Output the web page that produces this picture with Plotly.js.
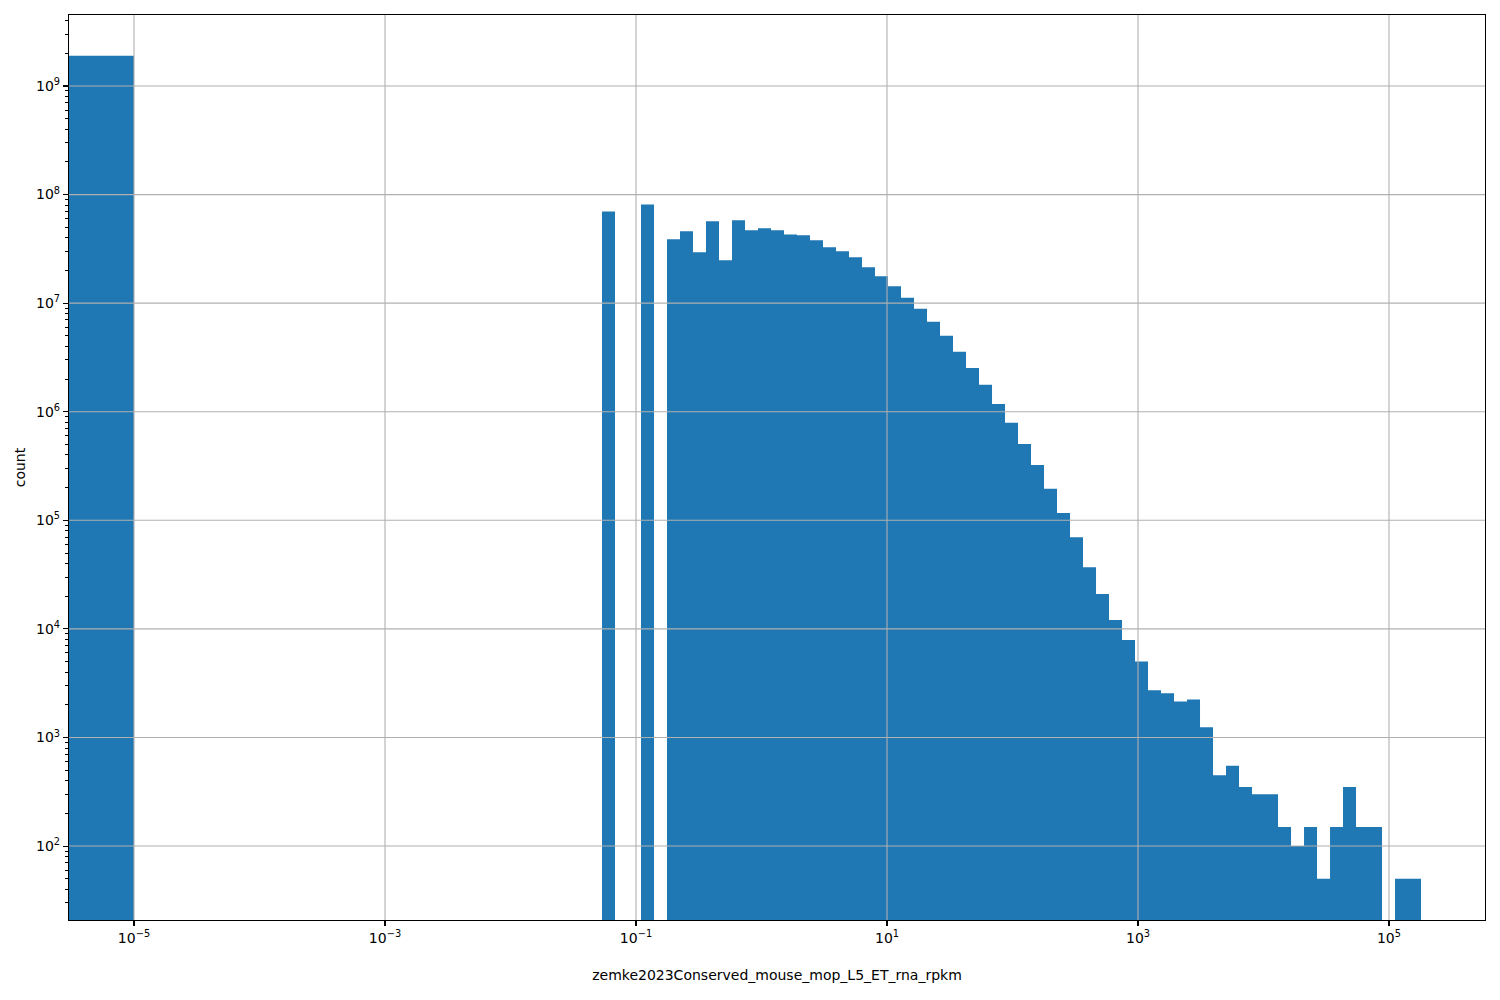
<!DOCTYPE html>
<html>
<head>
<meta charset="utf-8">
<script src="https://cdn.plot.ly/plotly-3.0.1.min.js"></script>
<style>html,body{margin:0;padding:0;background:#fff}</style>
</head>
<body>
<div id="chart" style="width:1500px;height:1000px"></div>
<script>
// histogram of rpkm values, log-spaced bins + one bin for the zeros
const zeroCount = 1.9e9;      // values == 0, drawn from 0 up to 1e-5
const zeroEdge = 1e-5;
const binLoExp = -1.2709;     // log10 of first bin's left edge
const binStepExp = 0.10359;   // bin width in decades
const counts = [
    7.0e7, 0, 0, 8.1e7, 0, 3.87e7, 4.6e7, 2.94e7, 5.68e7, 2.48e7,
    5.8e7, 4.69e7, 4.89e7, 4.69e7, 4.3e7, 4.22e7, 3.79e7, 3.27e7, 3.0e7, 2.65e7,
    2.14e7, 1.77e7, 1.43e7, 1.12e7, 8.87e6, 6.73e6, 5.0e6, 3.56e6, 2.53e6, 1.77e6,
    1.18e6, 7.9e5, 5.05e5, 3.24e5, 1.95e5, 1.17e5, 7.0e4, 3.7e4, 2.1e4, 1.21e4,
    7.9e3, 5.0e3, 2.72e3, 2.55e3, 2.15e3, 2.24e3, 1.24e3, 450, 550, 350,
    300, 300, 150, 100, 150, 50, 150, 350, 150, 150,
    0, 50, 50
];
const xTickExp = [-5, -3, -1, 1, 3, 5];
const yTickExp = [2, 3, 4, 5, 6, 7, 8, 9];
const xLabel = "zemke2023Conserved_mouse_mop_L5_ET_rna_rpkm";
const yLabel = "count";

const BLUE = "#1f77b4", GRID = "#b0b0b0";
const FONT = { family: "DejaVu Sans, sans-serif", size: 14, color: "#000" };

// step outline of the bars, closed along a baseline below the axis
const base = 1;
const xs = [1e-8, 1e-8, zeroEdge, zeroEdge];
const ys = [base, zeroCount, zeroCount, base];
counts.forEach((c, i) => {
    const l = Math.pow(10, binLoExp + i * binStepExp), r = Math.pow(10, binLoExp + (i + 1) * binStepExp);
    const v = c > 0 ? c : base;
    xs.push(l, l, r, r); ys.push(base, v, v, base);
});

const trace = {
    x: xs, y: ys, type: "scatter", mode: "lines", fill: "toself",
    fillcolor: BLUE, line: { width: 0, color: BLUE }, hoverinfo: "skip", showlegend: false
};

// matplotlib draws the grid on top of the bars
const shapes = [
    ...xTickExp.map(e => ({ type: "line", layer: "above", xref: "x", yref: "paper", x0: Math.pow(10, e), x1: Math.pow(10, e), y0: 0, y1: 1, line: { color: GRID, width: 1.1 } })),
    ...yTickExp.map(e => ({ type: "line", layer: "above", xref: "paper", yref: "y", x0: 0, x1: 1, y0: Math.pow(10, e), y1: Math.pow(10, e), line: { color: GRID, width: 1.1 } }))
];

const pow10 = e => "10<sup>" + String(e).replace("-", "\u2212") + "</sup>";

const axisBase = {
    type: "log", showgrid: false, zeroline: false, showline: true, mirror: true,
    linecolor: "#000", linewidth: 1.1, ticks: "outside", ticklen: 5, tickwidth: 1.1, tickcolor: "#000",
    tickfont: FONT
};

const layout = {
    width: 1500, height: 1000,
    paper_bgcolor: "#fff", plot_bgcolor: "#fff",
    font: FONT,
    margin: { l: 69, r: 15, t: 15, b: 80 },
    xaxis: { ...axisBase, range: [-5.518, 5.765], tickmode: "array",
        tickvals: xTickExp.map(e => Math.pow(10, e)), ticktext: xTickExp.map(pow10),
        title: { text: xLabel, font: FONT, standoff: 25 } },
    yaxis: { ...axisBase, range: [1.319, 9.654], tickmode: "array",
        tickvals: yTickExp.map(e => Math.pow(10, e)), ticktext: yTickExp.map(pow10),
        minor: { ticks: "outside", ticklen: 3, tickwidth: 1, tickcolor: "#000", dtick: "D1", showgrid: false },
        title: { text: yLabel, font: FONT, standoff: 7 } },
    shapes: shapes
};

Plotly.newPlot("chart", [trace], layout, { displayModeBar: false, staticPlot: true });
</script>
</body>
</html>
